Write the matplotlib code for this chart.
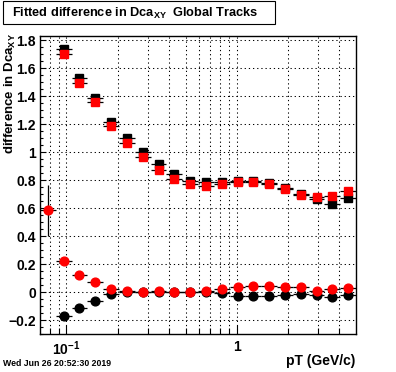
import numpy as np
import matplotlib
matplotlib.use('Agg')
import matplotlib.pyplot as plt
from matplotlib.ticker import FixedLocator, FixedFormatter, MultipleLocator, NullFormatter
from matplotlib.patches import Rectangle

plt.rcParams['font.family'] = ['Liberation Sans', 'DejaVu Sans']
plt.rcParams['font.weight'] = 'bold'
plt.rcParams['mathtext.fontset'] = 'custom'
plt.rcParams['mathtext.rm'] = 'Liberation Sans:bold'
plt.rcParams['mathtext.bf'] = 'Liberation Sans:bold'
plt.rcParams['mathtext.it'] = 'Liberation Sans:bold'
plt.rcParams['axes.unicode_minus'] = True

# ---------------- data ----------------
pt_edges = [0.07, 0.08666, 0.10728, 0.13281, 0.16441, 0.20353, 0.25196, 0.31191,
            0.38612, 0.47799, 0.59172, 0.73252, 0.90678, 1.12236, 1.38937, 1.71997,
            2.12918, 2.63580, 3.26290, 4.03929, 5.0]
pt = [0.07788, 0.09642, 0.11935, 0.14776, 0.18292, 0.22645, 0.28034, 0.34705,
      0.42963, 0.53186, 0.65842, 0.81510, 1.00876, 1.24881, 1.54596, 1.91383,
      2.36925, 2.93303, 3.63096, 4.49496]

nan = np.nan
black_sq = [nan, 1.738, 1.533, 1.388, 1.214, 1.098, 1.000, 0.914, 0.845, 0.795,
            0.783, 0.786, 0.797, 0.795, 0.776, 0.743, 0.702, 0.667, 0.631, 0.674]
red_sq = [nan, 1.700, 1.495, 1.357, 1.190, 1.062, 0.962, 0.874, 0.810, 0.774,
          0.760, 0.771, 0.788, 0.788, 0.771, 0.738, 0.695, 0.679, 0.688, 0.721]
black_circ = [nan, -0.171, -0.114, -0.066, -0.014, -0.002, 0.000, 0.000, 0.000, 0.000,
              0.000, -0.005, -0.026, -0.031, -0.029, -0.021, -0.014, -0.019, -0.038, -0.021]
red_circ = [0.584, 0.221, 0.119, 0.069, 0.019, 0.006, 0.002, 0.004, 0.002, 0.002,
            0.004, 0.019, 0.034, 0.043, 0.043, 0.034, 0.034, 0.010, 0.024, 0.031]

err_sq = [0.01] * 20
err_circ = [0.18] + [0.005] * 19

yticks = [-0.2, 0.0, 0.2, 0.4, 0.6, 0.8, 1.0, 1.2, 1.4, 1.6, 1.8]
ytick_labels = ['\u22120.2', '0', '0.2', '0.4', '0.6', '0.8', '1', '1.2', '1.4', '1.6', '1.8']
xticks_major = [0.1, 1.0]
xtick_labels = [r'$10^{-1}$', '1']
xticks_minor = [0.08, 0.09, 0.2, 0.3, 0.4, 0.5, 0.6, 0.7, 0.8, 0.9, 2, 3, 4]

title = r'Fitted difference in Dca$_{XY}$  Global Tracks'
ylabel = r'difference in Dca$_{XY}$'
xlabel = 'pT (GeV/c)'
stamp = 'Wed Jun 26 20:52:30 2019'

# ---------------- figure ----------------
W, H = 396, 372
fig = plt.figure(figsize=(W / 100, H / 100), dpi=100)
ax = fig.add_axes([40 / W, 38 / H, 316 / W, 298 / H])

ptA = np.array(pt)
edges = np.array(pt_edges)
xerr = [ptA - edges[:-1], edges[1:] - ptA]

def draw(vals, errs, marker, color, ms):
    ax.errorbar(ptA, vals, yerr=errs, xerr=xerr, fmt=marker, color=color,
                mfc=color, mec=color, ms=ms, ecolor='black', elinewidth=0.9,
                capsize=0, linestyle='none')

draw(black_sq, err_sq, 's', 'black', 6.0)
draw(red_sq, err_sq, 's', 'red', 6.0)
draw(black_circ, err_circ, 'o', 'black', 6.3)
draw(red_circ, err_circ, 'o', 'red', 6.3)

ax.set_xscale('log')
ax.set_xlim(0.07, 5.0)
ax.set_ylim(-0.3, 1.83)

ax.xaxis.set_major_locator(FixedLocator(xticks_major))
ax.xaxis.set_major_formatter(FixedFormatter(xtick_labels))
ax.xaxis.set_minor_locator(FixedLocator(xticks_minor))
ax.xaxis.set_minor_formatter(NullFormatter())
ax.yaxis.set_major_locator(FixedLocator(yticks))
ax.yaxis.set_major_formatter(FixedFormatter(ytick_labels))
ax.yaxis.set_minor_locator(MultipleLocator(0.05))

ax.tick_params(axis='both', which='both', direction='in', top=False, right=False,
               width=0.8, colors='black', labelsize=10)
ax.tick_params(axis='y', which='major', length=4.3, pad=3)
ax.tick_params(axis='y', which='minor', length=2.2)
ax.tick_params(axis='x', which='major', length=6.5, pad=4)
ax.tick_params(axis='x', which='minor', length=4.0)

grid_kw = dict(color='black', linewidth=0.75, linestyle=(0, (1.2, 2.8)))
ax.grid(True, which='major', axis='y', **grid_kw)
ax.grid(True, which='both', axis='x', **grid_kw)
ax.set_axisbelow(True)
for s in ax.spines.values():
    s.set_linewidth(1.0)

# title box
fig.patches.append(Rectangle((3 / W, (H - 24) / H), 272 / W, 23 / H,
                             transform=fig.transFigure, facecolor='white',
                             edgecolor='black', linewidth=0.8))
fig.text(12.5 / W, (H - 17) / H, title, ha='left', va='baseline', fontsize=9.2)

fig.text(10.5 / W, (H - 33) / H, ylabel, rotation=90, ha='center', va='top', fontsize=9.5)
fig.text(355 / W, (H - 365) / H, xlabel, ha='right', va='baseline', fontsize=10)
fig.text(3 / W, (H - 366) / H, stamp, ha='left', va='baseline', fontsize=6.3)

fig.savefig('out.png', dpi=100)
